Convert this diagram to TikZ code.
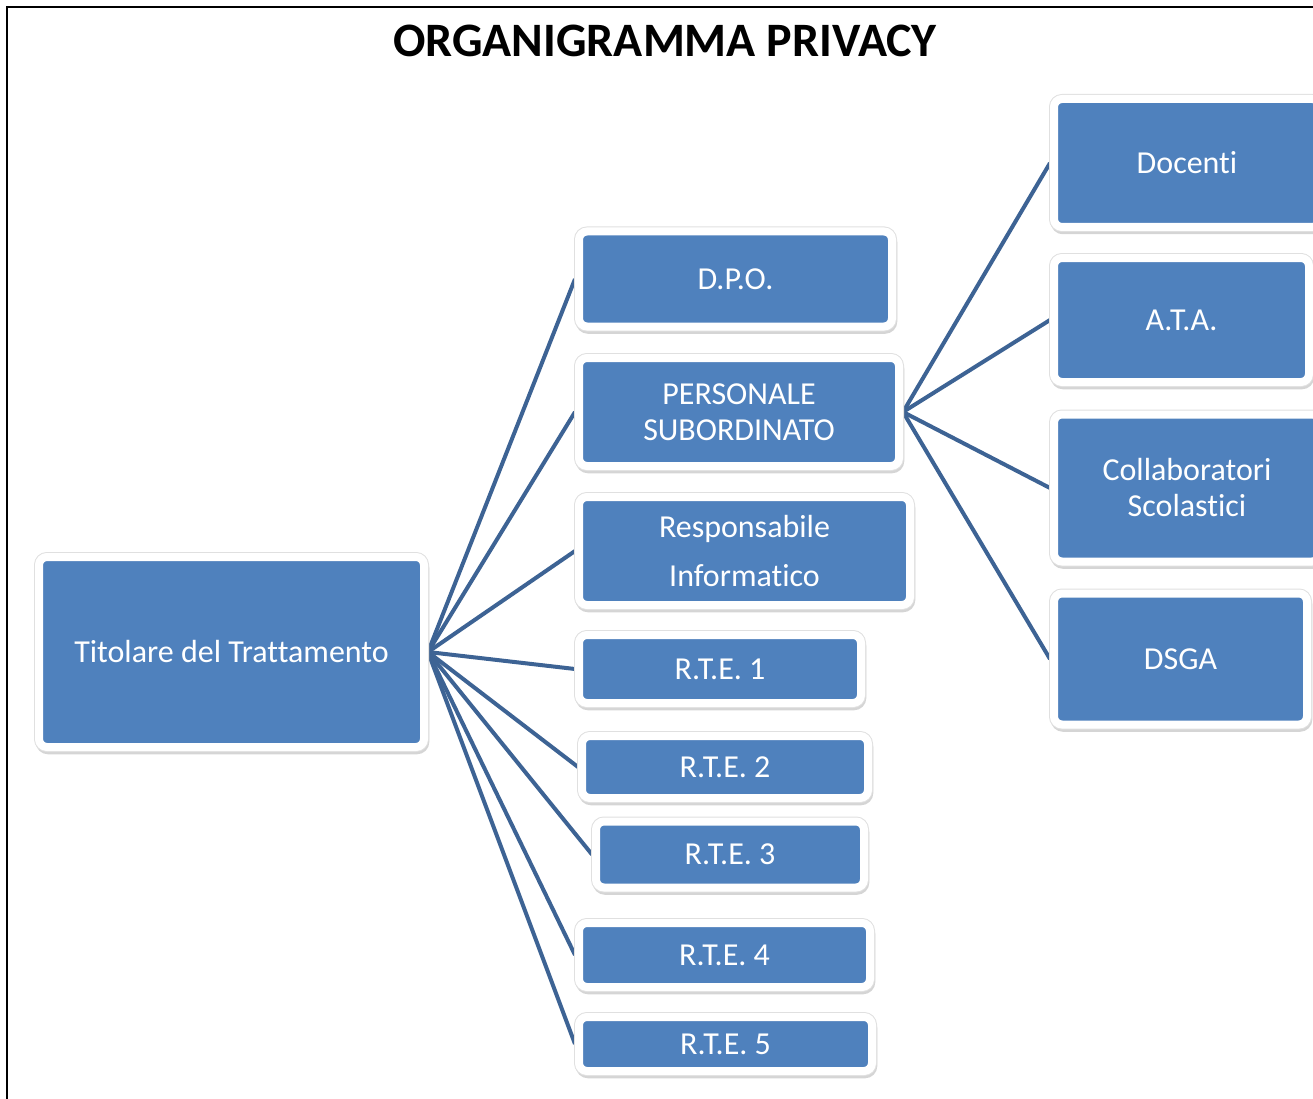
\documentclass[tikz,border=0pt]{standalone}
\usepackage{fontspec}
\setmainfont{Carlito}[Ligatures={NoCommon}]
\usetikzlibrary{shadows,backgrounds}
\definecolor{boxblue}{RGB}{79,129,189}
\definecolor{linkblue}{RGB}{61,99,148}
\tikzset{
  orgbox/.style={rectangle, fill=boxblue, draw=white, line width=8pt, rounded corners=8pt,
    text=white, align=center, inner sep=0pt, font=\fontsize{32}{36}\selectfont,
    drop shadow={shadow xshift=1pt, shadow yshift=-3pt, opacity=0.3, fill=black!55, draw=black!55, line width=8.5pt},
    preaction={draw=black!12, line width=10pt}},
  link/.style={draw=linkblue, line width=4pt},
  frameline/.style={draw=black, line width=2pt}
}
\begin{document}
\begin{tikzpicture}[x=1pt,y=-1pt]
\useasboundingbox (0,0) rectangle (1313,1099);
\draw[frameline] (7,1099) -- (7,7) -- (1313,7);
\node[font=\fontsize{48}{52}\selectfont\bfseries] (title) at (665,41) {ORGANIGRAMMA PRIVACY};

\node[orgbox, minimum width=385pt, minimum height=190pt] (tit) at (231.5,652) {Titolare del Trattamento};
\node[orgbox, minimum width=313pt, minimum height=95pt] (dpo) at (735.5,279) {D.P.O.};
\node[orgbox, minimum width=320pt, minimum height=108pt] (pers) at (739,412) {PERSONALE\\SUBORDINATO};
\node[orgbox, minimum width=331pt, minimum height=108pt] (resp) at (744.5,551) {Responsabile\\[13pt]Informatico};
\node[orgbox, minimum width=282pt, minimum height=68pt] (rte1) at (720,669) {R.T.E. 1};
\node[orgbox, minimum width=286pt, minimum height=62pt] (rte2) at (725,767) {R.T.E. 2};
\node[orgbox, minimum width=268pt, minimum height=66pt] (rte3) at (730,854.5) {R.T.E. 3};
\node[orgbox, minimum width=291pt, minimum height=64pt] (rte4) at (724.5,955) {R.T.E. 4};
\node[orgbox, minimum width=293pt, minimum height=54pt] (rte5) at (725.5,1044) {R.T.E. 5};

\node[orgbox, minimum width=266pt, minimum height=128pt] (doc) at (1187,163) {Docenti};
\node[orgbox, minimum width=255pt, minimum height=124pt] (ata) at (1181.5,320) {A.T.A.};
\node[orgbox, minimum width=266pt, minimum height=147pt] (coll) at (1187,488) {Collaboratori\\Scolastici};
\node[orgbox, minimum width=253pt, minimum height=131pt] (dsga) at (1180.5,659) {DSGA};

\begin{scope}[on background layer]
\foreach \t in {dpo,pers,resp,rte1,rte2,rte3,rte4,rte5}
  \draw[link] (tit.east) -- (\t.west);
\foreach \t in {doc,ata,coll,dsga}
  \draw[link] (pers.east) -- (\t.west);
\end{scope}
\end{tikzpicture}
\end{document}
